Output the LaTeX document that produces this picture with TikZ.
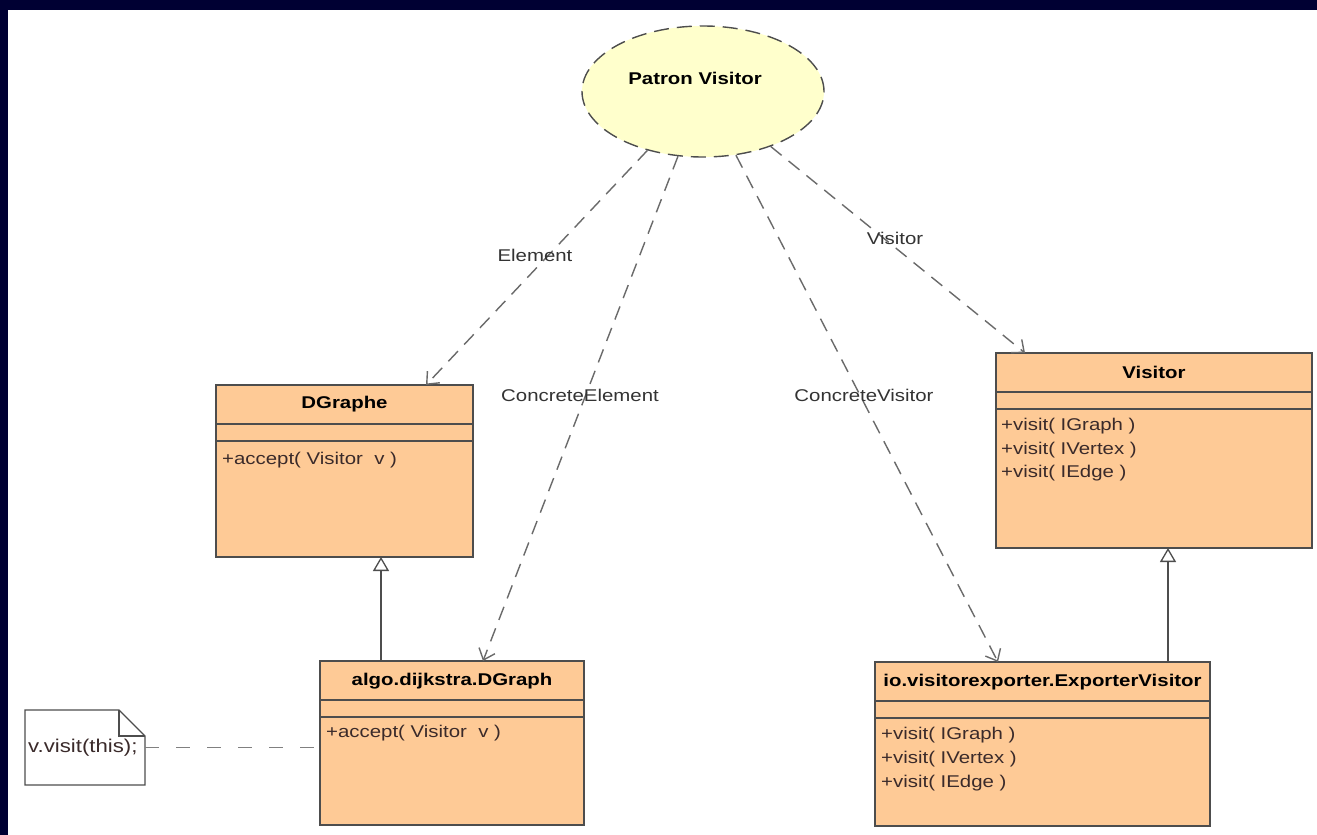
\documentclass[tikz,border=0pt]{standalone}
\usepackage{fontspec}
\newfontfamily\umlfont{Liberation Sans}[FakeStretch=1.2]
\usetikzlibrary{arrows.meta,shapes.geometric,calc}

\definecolor{frame}{HTML}{000033}
\definecolor{classfill}{HTML}{FECA96}
\definecolor{ovalfill}{HTML}{FFFFCC}
\definecolor{boxline}{HTML}{4D4D4D}
\definecolor{depline}{HTML}{6A6A6A}
\definecolor{linkline}{HTML}{808080}
\definecolor{optext}{HTML}{3A2A2A}
\definecolor{labeltext}{HTML}{333333}

\begin{document}
\begin{tikzpicture}[x=1pt,y=-1pt,
  font=\umlfont\fontsize{17}{20}\selectfont,
  cls/.style={draw=boxline,fill=classfill,line width=1.3pt,anchor=north west,
              inner sep=0pt,outer sep=0pt},
  sep/.style={draw=boxline,line width=1.3pt},
  title/.style={font=\umlfont\bfseries\fontsize{17}{20}\selectfont,text=black,inner sep=0pt},
  op/.style={anchor=west,inner sep=0pt,text=optext},
  lbl/.style={text=labeltext,inner sep=0pt},
  dep/.style={draw=depline,line width=1.4pt,dash pattern=on 14pt off 9pt,
              -{Straight Barb[length=10pt,width=17pt,line width=1.4pt]}},
  gen/.style={draw=boxline,line width=1.3pt,
              -{Triangle[open,length=14pt,width=16pt,fill=white,line width=1.3pt]}},
  notelink/.style={draw=linkline,line width=1.4pt,dash pattern=on 14pt off 17pt}]

% white canvas with a dark strip along the left and top edges
\useasboundingbox (0,0) rectangle (1317,835);
\fill[white] (-10,-10) rectangle (1330,850);
\fill[frame] (-10,-10) rectangle (8,850);
\fill[frame] (-10,-10) rectangle (1330,10);

% pattern collaboration
\node[ellipse,draw=boxline,fill=ovalfill,line width=1.4pt,dash pattern=on 15pt off 8pt,
      minimum width=242pt,minimum height=131pt,inner sep=0pt] (pv) at (703,91.5) {};
\node[title] (pvt) at (695,78) {Patron Visitor};

% class DGraphe
\node[cls,minimum width=257pt,minimum height=172pt] (dgraphe) at (216,385) {};
\draw[sep] ($(dgraphe.north west)+(0,39)$) -- ($(dgraphe.north east)+(0,39)$);
\draw[sep] ($(dgraphe.north west)+(0,56)$) -- ($(dgraphe.north east)+(0,56)$);
\node[title] (dgraphet) at ($(dgraphe.north)+(0,19.5)$) {DGraphe};
\node[op] (dgrapheop) at ($(dgraphe.north west)+(6,75)$) {+accept( Visitor \ v )};

% class Visitor
\node[cls,minimum width=316pt,minimum height=195pt] (visitor) at (996,353) {};
\draw[sep] ($(visitor.north west)+(0,39)$) -- ($(visitor.north east)+(0,39)$);
\draw[sep] ($(visitor.north west)+(0,56)$) -- ($(visitor.north east)+(0,56)$);
\node[title] (visitort) at ($(visitor.north)+(0,19.5)$) {Visitor};
\node[op] (visitorop1) at ($(visitor.north west)+(5,73)$) {+visit( IGraph )};
\node[op] (visitorop2) at ($(visitor.north west)+(5,97)$) {+visit( IVertex )};
\node[op] (visitorop3) at ($(visitor.north west)+(5,120)$) {+visit( IEdge )};

% class algo.dijkstra.DGraph
\node[cls,minimum width=264pt,minimum height=164pt] (algo) at (320,661) {};
\draw[sep] ($(algo.north west)+(0,39)$) -- ($(algo.north east)+(0,39)$);
\draw[sep] ($(algo.north west)+(0,56)$) -- ($(algo.north east)+(0,56)$);
\node[title] (algot) at ($(algo.north)+(0,20)$) {algo.dijkstra.DGraph};
\node[op] (algoop) at ($(algo.north west)+(6,72)$) {+accept( Visitor \ v )};

% class io.visitorexporter.ExporterVisitor
\node[cls,minimum width=335pt,minimum height=164pt] (exporter) at (875,662) {};
\draw[sep] ($(exporter.north west)+(0,39)$) -- ($(exporter.north east)+(0,39)$);
\draw[sep] ($(exporter.north west)+(0,56)$) -- ($(exporter.north east)+(0,56)$);
\node[title] (exportert) at ($(exporter.north)+(0,20)$) {io.visitorexporter.ExporterVisitor};
\node[op] (exporterop1) at ($(exporter.north west)+(6,73)$) {+visit( IGraph )};
\node[op] (exporterop2) at ($(exporter.north west)+(6,97)$) {+visit( IVertex )};
\node[op] (exporterop3) at ($(exporter.north west)+(6,121)$) {+visit( IEdge )};

% note attached to algo.dijkstra.DGraph
\node[minimum width=120pt,minimum height=75pt,anchor=north west,inner sep=0pt,outer sep=0pt]
  (note) at (25,710) {};
\draw[boxline,line width=1.3pt,fill=white]
  (note.north west) -- ($(note.north east)+(-26,0)$) -- ($(note.north east)+(0,26)$)
  -- (note.south east) -- (note.south west) -- cycle;
\draw[boxline,line width=1.3pt]
  ($(note.north east)+(-26,0)$) -- ($(note.north east)+(-26,26)$) -- ($(note.north east)+(0,26)$);
\node[op,font=\umlfont\fontsize{18.5}{20}\selectfont] (notet) at ($(note.west)+(3,0)$) {v.visit(this);};
\draw[notelink] (note.east) -- (note.east -| algo.west);

% roles of the pattern
\draw[dep] (pv) -- ([xshift=210pt]dgraphe.north west);
\draw[dep] (pv) -- ([xshift=163pt]algo.north west);
\draw[dep] (pv) -- ([xshift=123pt]exporter.north west);
\draw[dep] (pv) -- ([xshift=29pt]visitor.north west);
\node[lbl] (lelement) at (535,255) {Element};
\node[lbl] (lcelement) at (580,395) {ConcreteElement};
\node[lbl] (lcvisitor) at (864,395) {ConcreteVisitor};
\node[lbl] (lvisitor) at (895,238) {Visitor};

% generalisations
\coordinate (g1) at ($(algo.north west)+(61,0)$);
\draw[gen] (g1) -- (g1 |- dgraphe.south);
\coordinate (g2) at ($(exporter.north west)+(293,0)$);
\draw[gen] (g2) -- (g2 |- visitor.south);
\end{tikzpicture}
\end{document}
